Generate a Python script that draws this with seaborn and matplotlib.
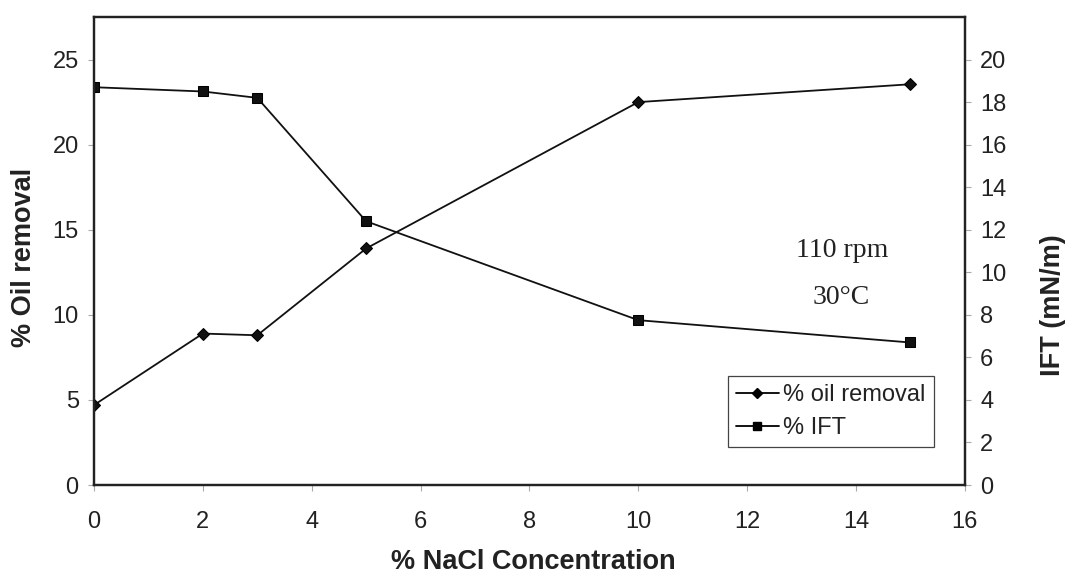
import matplotlib
matplotlib.use("Agg")
import matplotlib.pyplot as plt
import seaborn as sns
import pandas as pd
from matplotlib.lines import Line2D

sns.set_style("ticks")
plt.rcParams["font.family"] = ["Liberation Sans", "DejaVu Sans"]

# NaCl concentration (%) and measured responses
nacl = [0, 2, 3, 5, 10, 15]
oil_removal = [4.7, 8.9, 8.8, 13.9, 22.5, 23.55]
ift = [18.7, 18.5, 18.2, 12.4, 7.75, 6.7]

left_ticks = [0, 5, 10, 15, 20, 25]
right_ticks = [0, 2, 4, 6, 8, 10, 12, 14, 16, 18, 20]
x_ticks = [0, 2, 4, 6, 8, 10, 12, 14, 16]

df = pd.DataFrame({"nacl": nacl, "oil": oil_removal, "ift": ift})

ink = "#222222"
fig = plt.figure(figsize=(10.72, 5.77), dpi=100)
ax = fig.add_axes([0.0877, 0.1594, 0.8123, 0.8111])
ax2 = ax.twinx()

sns.lineplot(data=df, x="nacl", y="oil", ax=ax, color="#111111", lw=1.3,
             marker="D", markersize=6, markeredgecolor="black")
sns.lineplot(data=df, x="nacl", y="ift", ax=ax2, color="#111111", lw=1.3,
             marker="s", markersize=6.5, markeredgecolor="black")

ax.set_xlim(0, 16)
ax.set_ylim(0, 27.5)
ax2.set_ylim(0, 22.0)
ax.set_xticks(x_ticks)
ax.set_yticks(left_ticks)
ax2.set_yticks(right_ticks)

for a in (ax, ax2):
    for s in a.spines.values():
        s.set_visible(True)
        s.set_color(ink)
        s.set_linewidth(1.6)
    a.tick_params(labelsize=17, length=4, width=0.8, color="#aaaaaa",
                  labelcolor=ink, pad=7)
ax.tick_params(axis="x", pad=15)

ax.set_xlabel("% NaCl Concentration", fontsize=19.5, fontweight="bold", color=ink)
ax.set_ylabel("% Oil removal", fontsize=19.5, fontweight="bold", color=ink)
ax2.set_ylabel("IFT (mN/m)", fontsize=19.5, fontweight="bold", color=ink)
ax.xaxis.set_label_coords(0.504, -0.165)
ax.xaxis.label.set_verticalalignment("center")
ax.yaxis.set_label_coords(-0.0805, 0.487)
ax.yaxis.label.set_verticalalignment("center")
ax2.yaxis.set_label_coords(1.1015, 0.385)
ax2.yaxis.label.set_verticalalignment("center")

ax.text(13.74, 13.8, "110 rpm", fontsize=20, family="Liberation Serif",
        ha="center", va="center", color=ink)
ax.text(13.72, 11.0, "30°C", fontsize=20, family="Liberation Serif",
        ha="center", va="center", color=ink)

handles = [
    Line2D([], [], color="black", lw=1.3, marker="D", markersize=5),
    Line2D([], [], color="black", lw=1.3, marker="s", markersize=6),
]
leg = ax.legend(handles, ["% oil removal", "% IFT"], loc="upper left",
                bbox_to_anchor=(0.728, 0.233), borderaxespad=0, fontsize=17,
                frameon=True, fancybox=False, framealpha=1, edgecolor="#444444",
                handlelength=1.8, handletextpad=0.2, borderpad=0.35,
                labelspacing=0.45)
leg.get_frame().set_linewidth(0.9)
for t in leg.get_texts():
    t.set_color(ink)

fig.savefig("out.png", dpi=100)
